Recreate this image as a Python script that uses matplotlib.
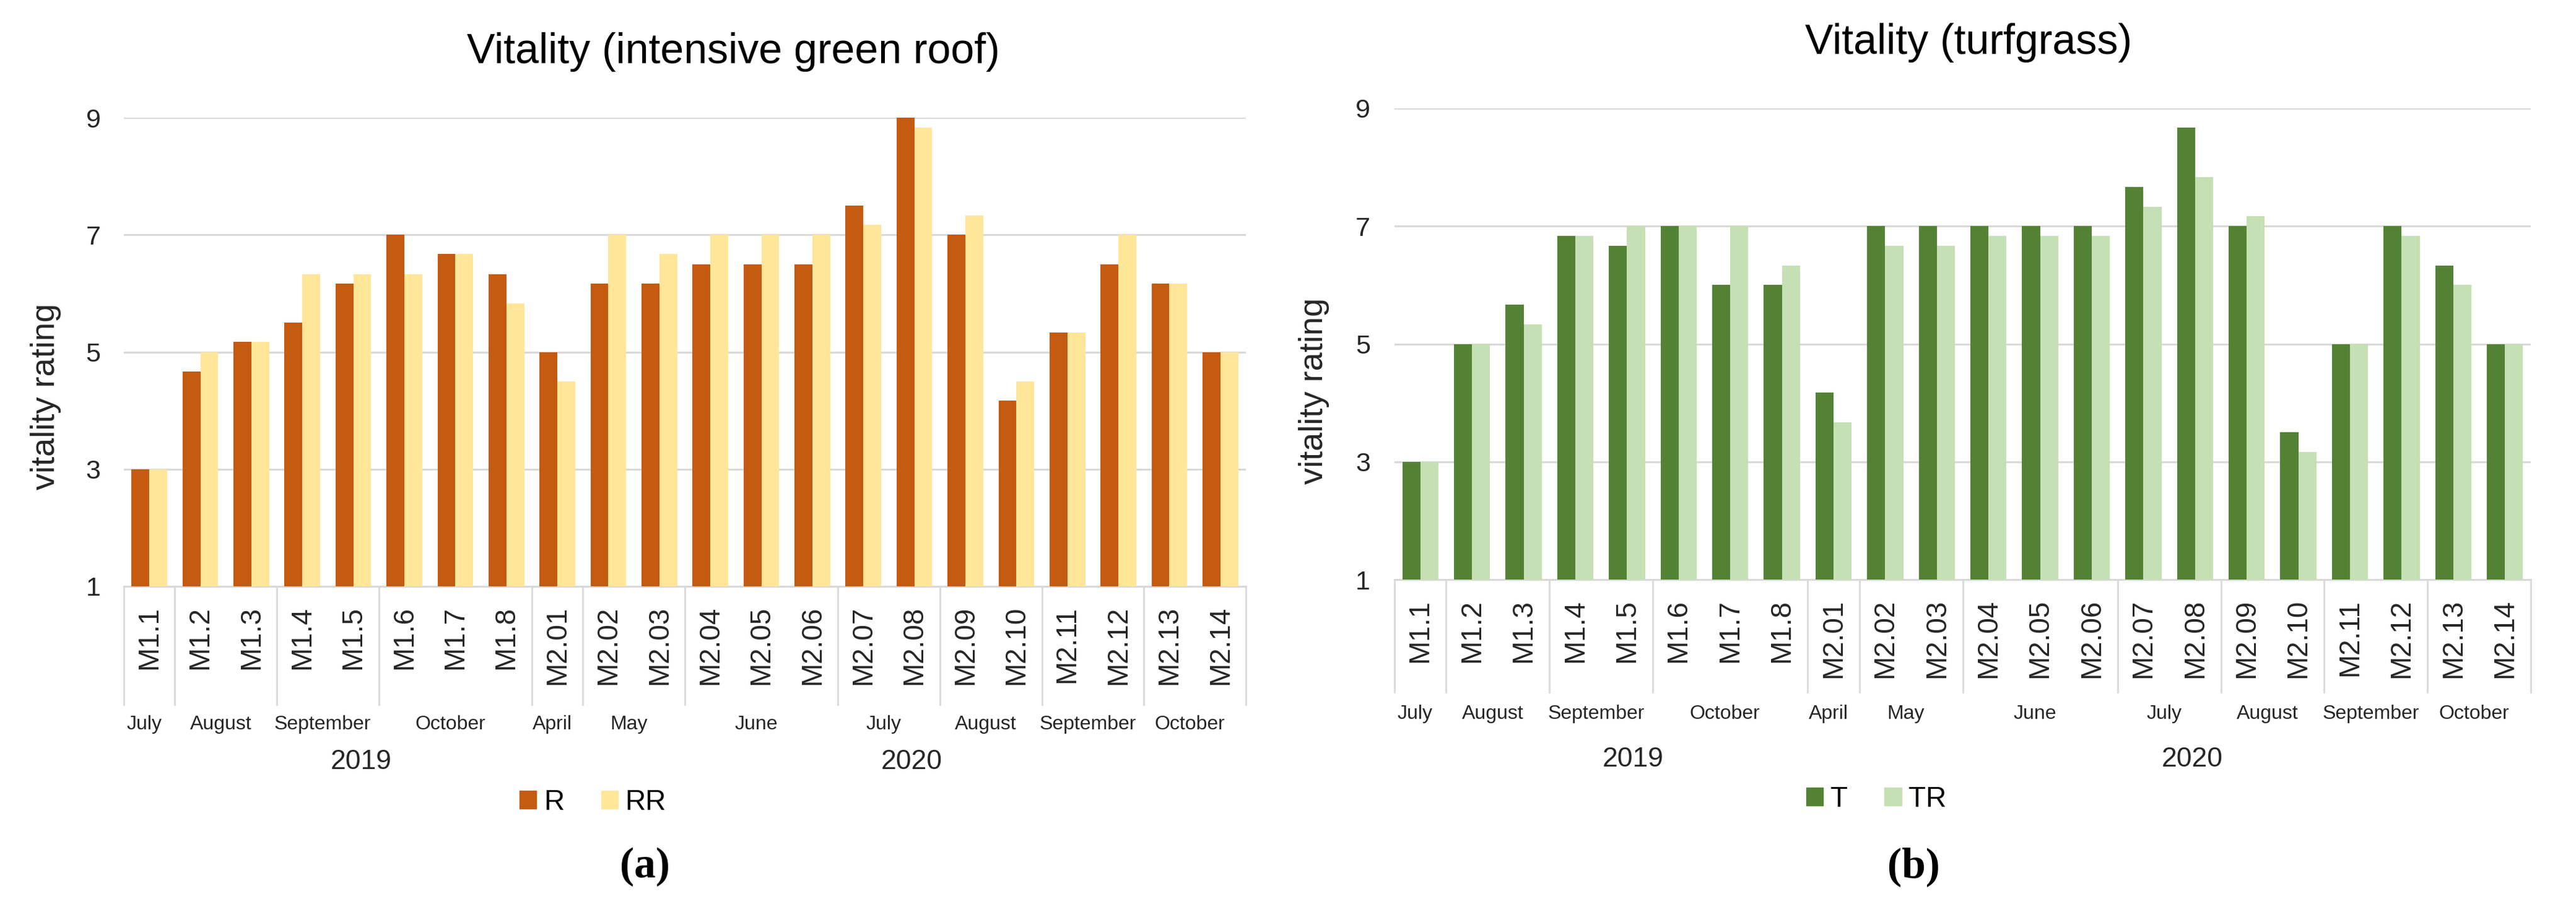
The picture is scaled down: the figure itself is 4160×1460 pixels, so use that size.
import matplotlib
matplotlib.use("Agg")
import matplotlib.pyplot as plt
from matplotlib.patches import Patch
import numpy as np

plt.rcParams['font.family'] = ['Liberation Sans', 'DejaVu Sans']

# ---------------- data ----------------
sites = ["M1.1", "M1.2", "M1.3", "M1.4", "M1.5", "M1.6", "M1.7", "M1.8",
         "M2.01", "M2.02", "M2.03", "M2.04", "M2.05", "M2.06", "M2.07",
         "M2.08", "M2.09", "M2.10", "M2.11", "M2.12", "M2.13", "M2.14"]
months = ["July", "August", "September", "October", "April", "May", "June",
          "July", "August", "September", "October"]
month_counts = [1, 2, 2, 3, 1, 2, 3, 2, 2, 2, 2]
years = ["2019", "2020"]

R = [3.0, 4.67, 5.17, 5.5, 6.17, 7.0, 6.67, 6.33, 5.0, 6.17, 6.17, 6.5, 6.5,
     6.5, 7.5, 9.0, 7.0, 4.17, 5.33, 6.5, 6.17, 5.0]
RR = [3.0, 5.0, 5.17, 6.33, 6.33, 6.33, 6.67, 5.83, 4.5, 7.0, 6.67, 7.0, 7.0,
      7.0, 7.17, 8.83, 7.33, 4.5, 5.33, 7.0, 6.17, 5.0]
T = [3.0, 5.0, 5.67, 6.83, 6.67, 7.0, 6.0, 6.0, 4.17, 7.0, 7.0, 7.0, 7.0,
     7.0, 7.67, 8.67, 7.0, 3.5, 5.0, 7.0, 6.33, 5.0]
TR = [3.0, 5.0, 5.33, 6.83, 7.0, 7.0, 7.0, 6.33, 3.67, 6.67, 6.67, 6.83, 6.83,
      6.83, 7.33, 7.83, 7.17, 3.17, 5.0, 6.83, 6.0, 5.0]

W, H = 4160, 1460
fig = plt.figure(figsize=(W / 100, H / 100), dpi=100)
fig.patch.set_facecolor("white")

GRID = "#D9D9D9"
TXT = "#262626"


def panel(rect, s1, s2, c1, c2, n1, n2, title, title_x, box_y, month_y,
          year_y, year_pos, leg_x, leg_y, ypad):
    ax = fig.add_axes(rect)
    x = np.arange(len(sites))
    w = 0.35
    ax.bar(x - w / 2, np.array(s1) - 1, w, bottom=1, color=c1, zorder=3)
    ax.bar(x + w / 2, np.array(s2) - 1, w, bottom=1, color=c2, zorder=3)
    ax.set_xlim(-0.5, len(sites) - 0.5)
    ax.set_ylim(1, 9)
    ax.set_yticks([1, 3, 5, 7, 9])
    ax.yaxis.grid(True, color=GRID, linewidth=2.2, zorder=0)
    ax.set_axisbelow(True)
    for s in ["top", "right", "left"]:
        ax.spines[s].set_visible(False)
    ax.spines["bottom"].set_color(GRID)
    ax.spines["bottom"].set_linewidth(2.2)
    ax.set_xticks(x)
    ax.set_xticklabels(sites, rotation=90, fontsize=33, color=TXT)
    ax.tick_params(axis="x", length=0, pad=23)
    ax.tick_params(axis="y", length=0, pad=ypad, labelsize=31, labelcolor=TXT)
    trans = ax.get_xaxis_transform()
    # category box separators
    b = np.concatenate([[0], np.cumsum(month_counts)]) - 0.5
    for xb in b:
        ax.plot([xb, xb], [0, box_y], color=GRID, lw=2, transform=trans,
                clip_on=False)
    centers = (b[:-1] + b[1:]) / 2 - 0.1
    for m, cx in zip(months, centers):
        ax.text(cx, month_y, m, transform=trans, ha="center", va="center",
                fontsize=23, color=TXT)
    for yr, px in zip(years, year_pos):
        ax.text(px, year_y, yr, transform=trans, ha="center", va="center",
                fontsize=32, color=TXT)
    ax.text(title_x, 1.116, title, transform=ax.transAxes, ha="center",
            va="baseline", fontsize=49, color="black")
    handles = [Patch(color=c1, label=n1), Patch(color=c2, label=n2)]
    ax.legend(handles=handles, loc="center", bbox_to_anchor=(leg_x, leg_y),
              ncol=2, frameon=False, fontsize=33, handlelength=0.6,
              handleheight=0.6, handletextpad=0.25, columnspacing=1.3)
    return ax


axL = panel([200 / W, 1 - 947 / H, 1812 / W, 757 / H], R, RR,
            "#C55A11", "#FFE699", "R", "RR",
            "Vitality (intensive green roof)", 0.543,
            -0.252, -0.295, -0.374, [4.15, 14.95], 0.418, -0.461, 27)
axR = panel([2252 / W, 1 - 936 / H, 1835 / W, 761 / H], T, TR,
            "#548235", "#C5E0B4", "T", "TR",
            "Vitality (turfgrass)", 0.505,
            -0.239, -0.285, -0.382, [4.12, 14.95], 0.424, -0.466, 28)

fig.text(74 / W, 1 - 640 / H, "vitality rating", rotation=90, ha="center",
         va="center", fontsize=39, color=TXT)
fig.text(2122 / W, 1 - 631 / H, "vitality rating", rotation=90, ha="center",
         va="center", fontsize=39, color=TXT)

fig.text(1041 / W, 1 - 1400 / H, "(a)", ha="center", va="center",
         fontsize=50, fontweight="bold", family=["Liberation Serif", "DejaVu Serif"])
fig.text(3090 / W, 1 - 1400 / H, "(b)", ha="center", va="center",
         fontsize=50, fontweight="bold", family=["Liberation Serif", "DejaVu Serif"])

fig.savefig("out.png", dpi=100, facecolor="white")
